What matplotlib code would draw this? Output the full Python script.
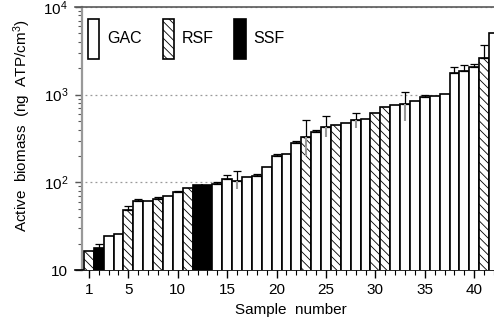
import matplotlib
matplotlib.use("Agg")
import matplotlib.pyplot as plt
import matplotlib.ticker as ticker
from matplotlib.patches import Patch
import numpy as np

plt.rcParams["font.family"] = ["Liberation Sans", "DejaVu Sans"]
plt.rcParams["mathtext.fontset"] = "custom"
plt.rcParams["mathtext.rm"] = "Liberation Sans"
plt.rcParams["mathtext.it"] = "Liberation Sans"
plt.rcParams["hatch.linewidth"] = 0.6

# sample type: G = GAC, R = RSF, S = SSF
types = ["R", "S", "G", "G", "R", "G", "G", "R", "G", "G",
         "R", "S", "S", "G", "G", "G", "G", "G", "G", "G",
         "G", "G", "R", "G", "G", "R", "G", "G", "G", "R",
         "R", "G", "G", "G", "G", "G", "G", "G", "G", "G",
         "R", "G"]
biomass = [16.5, 18, 24.5, 26, 48, 62, 62, 65, 70, 77,
           86, 93, 93, 95, 110, 104, 114, 117, 150, 200,
           212, 280, 325, 378, 430, 450, 480, 510, 530, 620,
           720, 770, 790, 850, 930, 960, 1030, 1770, 1840, 2050,
           2600, 5100]
# top of the error bar (0 = none drawn)
err_top = [0, 20, 0, 0, 54, 65, 0, 68, 0, 80,
           0, 0, 0, 100, 120, 135, 0, 125, 0, 210,
           0, 300, 520, 400, 575, 0, 0, 620, 0, 0,
           0, 0, 1080, 0, 1000, 0, 0, 2050, 2200, 2250,
           3700, 0]
# bottom of the (grey) lower error bar (0 = none drawn)
err_bot = [0, 0, 0, 0, 0, 0, 0, 0, 0, 0,
           0, 0, 0, 0, 0, 85, 0, 0, 0, 0,
           0, 0, 200, 0, 330, 0, 0, 420, 0, 0,
           0, 0, 500, 0, 0, 0, 0, 0, 0, 0,
           0, 0]
xticks = [1, 5, 10, 15, 20, 25, 30, 35, 40]

x = np.arange(1, len(biomass) + 1)
style = {"G": dict(facecolor="white", hatch=None),
         "R": dict(facecolor="white", hatch="\\\\\\\\"),
         "S": dict(facecolor="black", hatch=None)}

fig = plt.figure(figsize=(4.94, 3.27), dpi=100)
ax = fig.add_axes([75 / 494, 1 - 270 / 327, 419 / 494, 263 / 327])

for xi, v, t in zip(x, biomass, types):
    ax.bar(xi, v, width=1.0, bottom=0, edgecolor="black", linewidth=1.2,
           zorder=3, **style[t])

b = np.array(biomass, dtype=float)
hi = np.array(err_top, dtype=float)
lo = np.array(err_bot, dtype=float)
m = hi > 0
ax.errorbar(x[m], b[m], yerr=[np.zeros(m.sum()), hi[m] - b[m]], fmt="none",
            ecolor="black", elinewidth=0.9, capsize=3, capthick=0.9, zorder=4)
m = lo > 0
ax.errorbar(x[m], b[m], yerr=[b[m] - lo[m], np.zeros(m.sum())], fmt="none",
            ecolor="0.6", elinewidth=1.5, capsize=0, zorder=4)

ax.set_yscale("log")
ax.set_ylim(10, 1e4)
ax.set_xlim(-0.4, 41.7)

ax.yaxis.set_major_locator(ticker.FixedLocator([10, 100, 1000, 10000]))
ax.yaxis.set_major_formatter(ticker.FixedFormatter(
    ["10", "$10^{2}$", "$10^{3}$", "$10^{4}$"]))
ax.yaxis.set_minor_locator(ticker.LogLocator(base=10, subs=np.arange(2, 10)))
ax.yaxis.set_minor_formatter(ticker.NullFormatter())
ax.set_xticks(xticks)
ax.set_xticks(x, minor=True)

ax.tick_params(axis="y", which="major", length=5, width=1, labelsize=11, pad=5,
               color="0.35")
ax.tick_params(axis="y", which="minor", length=3, width=0.8, color="0.35")
ax.tick_params(axis="x", which="major", length=6, width=1, labelsize=11, pad=3)
ax.tick_params(axis="x", which="minor", length=3.5, width=0.8)

ax.spines["left"].set_position(("data", 0.3))
ax.spines["left"].set_color("0.6")
ax.spines["left"].set_linewidth(1.6)
ax.spines["right"].set_visible(False)
ax.spines["top"].set_color("0.35")
ax.spines["top"].set_linewidth(1.2)
ax.spines["bottom"].set_linewidth(1.2)

ax.yaxis.grid(True, which="major", linestyle=(0, (1.5, 2.5)), color="0.6",
              linewidth=0.9, zorder=1)
ax.set_axisbelow(True)

ax.set_ylabel("Active  biomass  (ng  ATP/cm$^{3}$)", fontsize=11)
ax.yaxis.set_label_coords(-0.10, 0.55)
ax.set_xlabel("Sample  number", fontsize=11)
ax.xaxis.set_label_coords(0.516, -0.125)

handles = [Patch(facecolor="white", edgecolor="black", linewidth=1.2, label="GAC"),
           Patch(facecolor="white", edgecolor="black", linewidth=1.2,
                 hatch="\\\\\\\\", label="RSF"),
           Patch(facecolor="black", edgecolor="black", linewidth=1.2, label="SSF")]
ax.legend(handles=handles, loc="upper left", bbox_to_anchor=(0.031, 0.955),
          ncol=3, frameon=False, fontsize=11.5, handlelength=0.7,
          handleheight=3.45, handletextpad=0.5, columnspacing=1.3,
          borderpad=0, borderaxespad=0)

fig.savefig("out.png", dpi=100)
